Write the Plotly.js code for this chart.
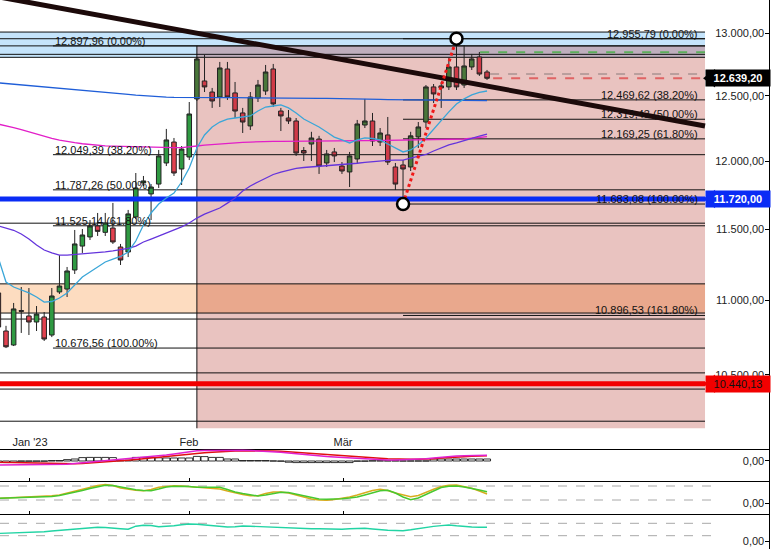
<!DOCTYPE html>
<html><head><meta charset="utf-8">
<script src="https://cdn.plot.ly/plotly-3.0.1.min.js"></script>
<style>html,body{margin:0;padding:0;background:#fff;overflow:hidden}#chart{width:771px;height:549px}</style>
</head><body><div id="chart"></div>
<script>
// ---- categories / ticks ----
const firstIdx = -1;   // first (partly visible) session
const tickIdx = [3.14, 23.97, 44.14];
const tickText = ["Jan '23", "Feb", "Mär"];
const priceTicks = [10500, 11000, 11500, 12000, 12500, 13000];

// ---- OHLC (idx -1 .. 63) ----
const openP  = [11051,10791,10697,10930,10893,10852,10886,10764,11058,11078,11211,11380,11445,11524,11478,11509,11373,11338,11589,11838,11757,11830,11987,12145,11942,12032,12477,12618,12531,12492,12713,12524,12368,12268,12484,12539,12713,12383,12329,12306,12081,12130,12168,11987,12070,11964,11920,12017,12275,12306,12145,12199,11957,11972,11957,12184,12298,12571,12579,12571,12729,12586,12729,12809,12689];
const highP  = [11106,10826,10982,11092,11085,10961,10920,11085,11316,11232,11495,11502,11567,11618,11618,11691,11395,11640,11912,11890,11830,12085,12245,12176,12115,12453,12809,12825,12563,12769,12769,12610,12407,12531,12626,12745,12753,12407,12391,12329,12107,12223,12192,12085,12100,11994,12070,12314,12477,12368,12252,12337,11987,12009,12223,12298,12586,12594,12610,12801,12955.79,12905,12833,12849,12705];
const lowP   = [10784,10676.56,10690,10778,10764,10791,10724,10750,11044,11023,11183,11331,11423,11452,11452,11395,11246,11302,11574,11815,11567,11801,11964,11890,11823,12009,12461,12531,12407,12414,12469,12329,12214,12237,12453,12508,12414,12229,12283,12040,12002,12002,11905,11957,11994,11905,11808,11987,12252,12115,12115,11972,11786,11683.08,11927,12100,12252,12445,12407,12547,12547,12563,12705,12658,12626];
const closeP = [10818,10685,10941,10925,10852,10906,10737,11030,11099,11204,11395,11459,11524,11485,11545,11409,11281,11611,11801,11853,11808,12040,12161,11912,12092,12360,12793,12571,12461,12721,12492,12383,12298,12492,12586,12689,12438,12345,12306,12062,12062,12176,11964,12055,12040,11927,12040,12283,12306,12153,12214,11994,11830,11942,12192,12260,12571,12516,12563,12729,12571,12737,12793,12673,12639.20];

// ---- moving averages ----
const maBlue = [12603,12598,12592,12586,12580,12575,12570,12566,12561,12556,12552,12547,12542,12536,12530,12525,12519,12513,12507,12502,12497,12494,12491,12489,12488,12487,12487,12487,12487,12487,12487,12487,12487,12487,12487,12487,12487,12487,12487,12486,12485,12484,12482,12481,12479,12478,12477,12476,12475,12474,12473,12472,12471,12470,12469,12468,12468,12467,12467,12466,12466,12465,12465,12465,12464];
const maMagenta = [12282,12270,12255,12240,12222,12204,12188,12173,12160,12148,12140,12132,12125,12119,12116,12114,12112,12110,12109,12107,12105,12103,12102,12102,12103,12107,12115,12121,12126,12131,12135,12139,12142,12145,12148,12149,12150,12150,12151,12151,12152,12152,12153,12153,12154,12154,12155,12155,12156,12156,12157,12157,12158,12158,12159,12160,12161,12162,12163,12164,12165,12168,12174,12180,12186];
const maPurple = [11524,11507,11493,11466,11430,11387,11352,11331,11316,11316,11320,11323,11327,11331,11338,11345,11355,11363,11380,11409,11430,11452,11473,11495,11517,11545,11581,11610,11632,11654,11690,11727,11779,11816,11845,11875,11901,11919,11934,11946,11953,11957,11961,11964,11968,11972,11979,11985,11991,11997,12002,12006,12008,12009,12024,12040,12051,12077,12100,12123,12138,12153,12172,12191,12206];
const maCyan = [11295,11127,11092,11071,11051,11023,10988,10992,11016,11051,11106,11162,11197,11232,11267,11288,11306,11338,11416,11531,11618,11683,11727,11764,11845,11949,12100,12199,12260,12298,12321,12329,12337,12345,12383,12414,12422,12430,12407,12368,12321,12291,12260,12222,12183,12161,12138,12161,12176,12172,12161,12130,12100,12070,12085,12123,12176,12245,12306,12376,12438,12477,12508,12528,12539];

// ---- lower panels ----
const macdRed = [-0.3,-0.35,-0.4,-0.45,-0.5,-0.55,-0.62,-0.68,-0.72,-0.75,-0.7,-0.6,-0.5,-0.43,-0.28,-0.12,0.05,0.2,0.4,0.6,0.78,0.95,1.1,1.3,1.5,1.7,1.9,2.05,2.2,2.35,2.48,2.52,2.55,2.57,2.58,2.58,2.5,2.42,2.3,2.18,2.02,1.86,1.7,1.55,1.42,1.3,1.18,1.05,0.93,0.8,0.68,0.55,0.45,0.42,0.42,0.42,0.43,0.55,0.75,0.92,1.0,1.08,1.18,1.26,1.33];
const macdMagenta = [-1.0,-1.0,-0.98,-0.96,-0.94,-0.92,-0.9,-0.87,-0.85,-0.83,-0.65,-0.48,-0.3,-0.18,0.02,0.22,0.42,0.62,0.78,0.95,1.12,1.3,1.5,1.75,2.0,2.25,2.55,2.6,2.65,2.7,2.75,2.72,2.68,2.62,2.55,2.5,2.35,2.2,2.02,1.82,1.65,1.5,1.35,1.15,1.02,0.9,0.78,0.65,0.5,0.42,0.35,0.28,0.25,0.3,0.38,0.48,0.58,0.75,0.95,1.13,1.22,1.3,1.36,1.4,1.43];
const macdHist = [-0.4,-0.4,-0.35,-0.05,-0.05,-0.05,-0.05,0.1,0.1,0.35,0.5,0.85,0.9,0.9,0.9,0.85,0.2,0.2,0.9,0.9,0.9,0.8,0.75,0.75,0.75,0.75,1.15,1.1,0.9,0.9,0.5,0.5,0.1,0.1,0.1,0.1,0,-0.05,-0.3,-0.4,-0.4,-0.4,-0.4,-0.4,-0.4,-0.4,-0.4,-0.05,-0.05,0.05,0.05,0.05,0.05,0,0,0,0,0.5,0.5,0.5,0.5,0.5,0.5,0.5,0.5];
const stochGreen = [4.6,4.8,5.2,5.6,6.0,6.2,6.3,6.5,7.5,9.0,10.5,12.5,14.5,16.5,17.8,17.5,16,14.5,13.3,12.5,12.3,14,16,16.8,17,16.5,15.8,15.7,15.7,15.7,13.5,11,9.5,8,7,8,9.2,10.7,10.5,9,7.2,5.5,4,3.7,3.8,4.2,5,6,8,10.5,12.3,12.8,10,6,3.2,5,8.5,12.5,15.5,16.8,17,16,14.8,13,11.3];
const stochOrange = [4.7,5.0,5.5,6.0,6.3,6.6,6.8,7.2,8.0,10.0,12.0,13.5,15.5,17.5,18.5,17.5,15,13.5,12.7,12.3,13.5,15.7,16.8,17.2,17,16.5,15.7,15.5,15,14,12,10,8.5,7.2,7.2,9.5,11,11,10,8,6,4,3,2.8,3.5,4.5,6,8,10.5,12.5,13.7,12.5,10,8,6.3,7.5,11,13.7,16.5,17.8,18,16.5,14.7,12,9];
const oscTeal = [7.6,7.8,8.1,8.4,8.7,9.0,9.3,10,10.6,11.2,12.2,12.8,13.4,13.7,13.5,13.2,12.3,11.8,14.8,15.8,15.5,14.3,14.6,15.2,16.2,17,16.8,16.2,15.5,14.8,14,14.2,15,14.8,14.4,14.2,13.8,13.3,12.9,12.3,12,12.2,12.3,12,11.7,11.8,12.2,12.5,12.7,12,11.2,10.8,10.5,10.3,11.2,12.5,13.6,14.6,15.4,16,15.2,14.3,14,13.8,13.7];
const stochBands = [17, 3];
const oscBands = [17.7, 5.3];

// ---- drawn levels ----
const fullLevels = [13010, 12955.79, 12897.96, 12830, 12806, 11544, 11114, 10913, 10872, 10512, 10406, 10199];
const fib1Levels = [12897.96, 12049.39, 11787.26, 11525.14, 10676.56];
const fib1Labels = ['12.897,96 (0.00%)', '12.049,39 (38.20%)', '11.787,26 (50.00%)', '11.525,14 (61.80%)', '10.676,56 (100.00%)'];
const fib2Levels = [12955.79, 12469.62, 12319.43, 12169.25, 11683.08, 10896.53];
const fib2Labels = ['12.955,79 (0.00%)', '12.469,62 (38.20%)', '12.319,43 (50.00%)', '12.169,25 (61.80%)', '11.683,08 (100.00%)', '10.896,53 (161.80%)'];
const blueBand = [12806, 13010];
const peachBand = [10913, 11114];
const pinkBox = [10154, 12897.96];
const trendX = [-0.786, 91.55];
const trendY = [13297, 12268];
const swingX = [52, 59];
const swingY = [11683.08, 12955.79];
const tagPrices = [12639.20, 11720.00, 10440.13];
const tagTexts = ['<b>12.639,20</b>', '<b>11.720,00</b>', '10.440,13'];
const tagBg = ['#000000', '#0a2cf5', '#f20000'];
const tagFg = ['#ffffff', '#ffffff', '#111111'];
const dashLevels = [12846, 12673, 12639.20];

// geometry (index units)
const xL = -0.786, xR = 91.55, xMax = 99.93, xPink = 25, xFib1 = 6.15, xFib2 = 52, xSub = 93.25;

const X = closeP.map((_, i) => i + firstIdx);
const split = X.indexOf(25);

// ---- shapes (below the traces) ----
const shapes = [];
function rectShape(x0, x1, lo, hi, color) {
  shapes.push({type:'rect', layer:'below', xref:'x', yref:'y', x0, x1, y0:lo, y1:hi, fillcolor:color, line:{width:0}});
}
function lineShapes(levels, x0, x1, xr, yr, style) {
  levels.forEach(p => shapes.push({type:'line', layer:'below', xref:xr, yref:yr, x0, x1, y0:p, y1:p, line:style}));
}
rectShape(xL, xR, blueBand[0], blueBand[1], '#c5e4fb');
rectShape(xPink, xR, pinkBox[0], pinkBox[1], '#e9c3c0');
rectShape(xPink, xR, blueBand[0], pinkBox[1], '#bfaebd');
rectShape(xL, xPink, peachBand[0], peachBand[1], '#fddcc0');
rectShape(xPink, xR, peachBand[0], peachBand[1], '#e9a88d');
const blk = {color:'#111', width:1};
lineShapes(fullLevels, xL, xR, 'x', 'y', blk);
lineShapes(fib1Levels, xFib1, xR, 'x', 'y', blk);
lineShapes(fib2Levels, xFib2, xR, 'x', 'y', blk);
shapes.push({type:'line', layer:'below', xref:'x', yref:'y', x0:xPink, x1:xPink, y0:pinkBox[0], y1:pinkBox[1], line:blk});
lineShapes([dashLevels[0]], 62.1, xR, 'x', 'y', {color:'#5cae5c', width:2, dash:'dash'});
lineShapes([dashLevels[1]], 63.4, xR, 'x', 'y', {color:'#8a7a7a', width:1, dash:'dash'});
lineShapes([dashLevels[2]], 63.8, xR, 'x', 'y', {color:'#e06464', width:2, dash:'dash'});
lineShapes(stochBands, xL, xSub, 'x3', 'y3', {color:'#a8a8a8', width:1, dash:'dash'});
lineShapes(oscBands, xL, xSub, 'x4', 'y4', {color:'#a8a8a8', width:1, dash:'dash'});

const traces = [];
// candles (before and inside the shaded box)
function candle(a, b, inc, dec) {
  return {type:'candlestick', x:X.slice(a,b), open:openP.slice(a,b), high:highP.slice(a,b), low:lowP.slice(a,b), close:closeP.slice(a,b),
    increasing:{fillcolor:inc, line:{color:'#222', width:1}}, decreasing:{fillcolor:dec, line:{color:'#222', width:1}},
    whiskerwidth:0, hoverinfo:'skip'};
}
traces.push(candle(0, split, '#2f9a42', '#e2414f'));
traces.push(candle(split, X.length, '#4a773a', '#cf3a47'));

// thick horizontal lines
traces.push({type:'scatter', mode:'lines', x:[xL, xR], y:[tagPrices[1], tagPrices[1]], line:{color:'#0a2cf5', width:5}, hoverinfo:'skip'});
traces.push({type:'scatter', mode:'lines', x:[xL, xR], y:[tagPrices[2], tagPrices[2]], line:{color:'#f20000', width:5}, hoverinfo:'skip'});

// moving averages
traces.push({type:'scatter', mode:'lines', x:X, y:maBlue, line:{color:'#1f5ed8', width:1.3}, hoverinfo:'skip'});
traces.push({type:'scatter', mode:'lines', x:X, y:maMagenta, line:{color:'#e21ec8', width:1.3}, hoverinfo:'skip'});
traces.push({type:'scatter', mode:'lines', x:X, y:maPurple, line:{color:'#6434dc', width:1.3}, hoverinfo:'skip'});
traces.push({type:'scatter', mode:'lines', x:X, y:maCyan, line:{color:'#3aa6d8', width:1.3}, hoverinfo:'skip'});

// trend line, swing
traces.push({type:'scatter', mode:'lines', x:trendX, y:trendY, line:{color:'#1c0a0a', width:5}, hoverinfo:'skip'});
traces.push({type:'scatter', mode:'lines', x:swingX, y:swingY, line:{color:'#f01818', width:3, dash:'dot'}, hoverinfo:'skip'});
traces.push({type:'scatter', mode:'markers', x:swingX, y:swingY, marker:{size:12, color:'#fff', line:{color:'#000', width:2.5}}, hoverinfo:'skip', cliponaxis:false});

// tag arrows
traces.push({type:'scatter', mode:'markers', x:[92.34, 92.34, 92.34], y:tagPrices, marker:{symbol:'triangle-left', size:16, color:tagBg}, hoverinfo:'skip', cliponaxis:false});

// lower panels
traces.push({type:'bar', x:X, y:macdHist, xaxis:'x2', yaxis:'y2', width:0.92, marker:{color:'#fff', line:{color:'#000', width:0.8}}, hoverinfo:'skip'});
traces.push({type:'scatter', mode:'lines', x:X, y:macdRed, xaxis:'x2', yaxis:'y2', line:{color:'#e01010', width:1.5}, hoverinfo:'skip'});
traces.push({type:'scatter', mode:'lines', x:X, y:macdMagenta, xaxis:'x2', yaxis:'y2', line:{color:'#e020d0', width:1.5}, hoverinfo:'skip'});
traces.push({type:'scatter', mode:'lines', x:X, y:stochOrange, xaxis:'x3', yaxis:'y3', line:{color:'#d8ac1e', width:1.5}, hoverinfo:'skip'});
traces.push({type:'scatter', mode:'lines', x:X, y:stochGreen, xaxis:'x3', yaxis:'y3', line:{color:'#48c830', width:1.5}, hoverinfo:'skip'});
traces.push({type:'scatter', mode:'lines', x:X, y:oscTeal, xaxis:'x4', yaxis:'y4', line:{color:'#22d4a4', width:1.4}, hoverinfo:'skip'});

// annotations
const ann = [];
fib1Levels.forEach((p, i) => ann.push({xref:'x', yref:'y', x:xFib1, y:Math.log10(p), xanchor:'left', yanchor:'bottom', yshift:-3,
  text:fib1Labels[i], showarrow:false, font:{size:11, color:'#111'}}));
fib2Levels.forEach((p, i) => ann.push({xref:'x', yref:'y', x:90.9, y:Math.log10(p), xanchor:'right', yanchor:'bottom', yshift:-3,
  text:fib2Labels[i], showarrow:false, font:{size:11, color:'#111'}}));
tagPrices.forEach((p, i) => ann.push({xref:'paper', yref:'y', x:1, xshift:2, y:Math.log10(p), xanchor:'right', yanchor:'middle',
  text:tagTexts[i], showarrow:false, bgcolor:tagBg[i], font:{size:11, color:tagFg[i]}, width:62, height:14, borderpad:1, align:'center'}));

const axLine = {showline:true, linecolor:'#000', linewidth:1, showgrid:false, zeroline:false, fixedrange:true};
const yFont = {size:11, color:'#222'};
const layout = {
  width:771, height:549, margin:{l:0, r:2, t:0, b:0}, paper_bgcolor:'#fff', plot_bgcolor:'#fff',
  showlegend:false, separators:',.', font:{family:'"Liberation Sans", Arial, sans-serif', size:11, color:'#111'},
  boxgap:0.15, bargap:0, dragmode:false,
  xaxis:Object.assign({}, axLine, {domain:[0,1], anchor:'y', range:[xL, xMax], tickvals:tickIdx, ticktext:tickText, ticks:'',
    ticklabelposition:'inside', tickfont:{size:11, color:'#222'}, rangeslider:{visible:false}}),
  yaxis:Object.assign({}, axLine, {domain:[0.18215, 1], anchor:'x', type:'log', range:[4.001008, 4.122986], side:'right',
    tickvals:priceTicks, tickformat:',.2f', ticks:'inside', ticklen:4, tickcolor:'#000', ticklabelposition:'inside', tickfont:yFont}),
  xaxis2:Object.assign({}, axLine, {domain:[0,1], anchor:'y2', matches:'x', range:[xL, xMax], tickvals:tickIdx, showticklabels:false, ticks:'inside', ticklen:3, tickcolor:'#000'}),
  yaxis2:Object.assign({}, axLine, {domain:[0.12386, 0.18215], anchor:'x2', range:[-5, 3], side:'right', tickvals:[0], tickformat:',.2f',
    ticks:'inside', ticklen:4, tickcolor:'#000', ticklabelposition:'inside', tickfont:yFont}),
  xaxis3:Object.assign({}, axLine, {domain:[0,1], anchor:'y3', matches:'x', range:[xL, xMax], tickvals:tickIdx, showticklabels:false, ticks:'inside', ticklen:3, tickcolor:'#000'}),
  yaxis3:Object.assign({}, axLine, {domain:[0.06375, 0.12204], anchor:'x3', range:[-11, 21], side:'right', tickvals:[0], tickformat:',.2f',
    ticks:'inside', ticklen:4, tickcolor:'#000', ticklabelposition:'inside', tickfont:yFont}),
  xaxis4:Object.assign({}, axLine, {domain:[0,1], anchor:'y4', matches:'x', range:[xL, xMax], showline:false, showticklabels:false, ticks:''}),
  yaxis4:Object.assign({}, axLine, {domain:[0, 0.06375], anchor:'x4', range:[-8, 27], side:'right', tickvals:[0], tickformat:',.2f',
    ticks:'inside', ticklen:4, tickcolor:'#000', ticklabelposition:'inside', tickfont:yFont}),
  shapes:shapes,
  annotations:ann
};
Plotly.newPlot('chart', traces, layout, {staticPlot:true, displayModeBar:false});
</script>
</body></html>
